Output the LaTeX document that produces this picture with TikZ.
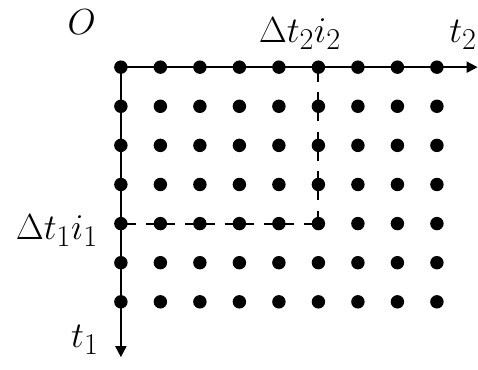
\documentclass[tikz,border=0pt]{standalone}
\usepackage{tikz}
\usetikzlibrary{arrows.meta, positioning}

\begin{document}
\begin{tikzpicture}[
    dot/.style={circle, fill=black, inner sep=0pt, minimum size=0.34cm},
    axis/.style={-{Triangle[length=8pt, width=8pt]}, line width=1.5pt},
    guide/.style={line width=1.5pt, dash pattern=on 0.74cm off 0.26cm, dash phase=0.37cm},
    lbl/.style={inner sep=0pt, font=\Huge, scale=1.05, transform shape}
]
    \useasboundingbox (-3.06,-7.65) rectangle (9.04,1.70);

    % lattice points
    \foreach \r in {0,...,6}
        \foreach \c in {0,...,8}
            \node[dot] (p-\r-\c) at (\c,-0.99*\r) {};

    \coordinate (t2end) at (9.03,0);
    \coordinate (t1end) at (0,-7.34);

    \draw[axis] (p-0-0.center) -- (t2end);
    \draw[axis] (p-0-0.center) -- (t1end);
    \draw[guide] (p-0-5.center) -- (p-4-5.center);
    \draw[guide] (p-4-0.center) -- (p-4-5.center);

    \node[lbl] (orig) at (-0.99,1.14) {$O$};
    \node[lbl] (dt2)  at (4.53,0.86) {$\Delta t_2 i_2$};
    \node[lbl] (t2)   at (8.66,0.83) {$t_2$};
    \node[lbl] (dt1)  at (-1.62,-4.13) {$\Delta t_1 i_1$};
    \node[lbl] (t1)   at (-0.91,-6.91) {$t_1$};
\end{tikzpicture}
\end{document}
